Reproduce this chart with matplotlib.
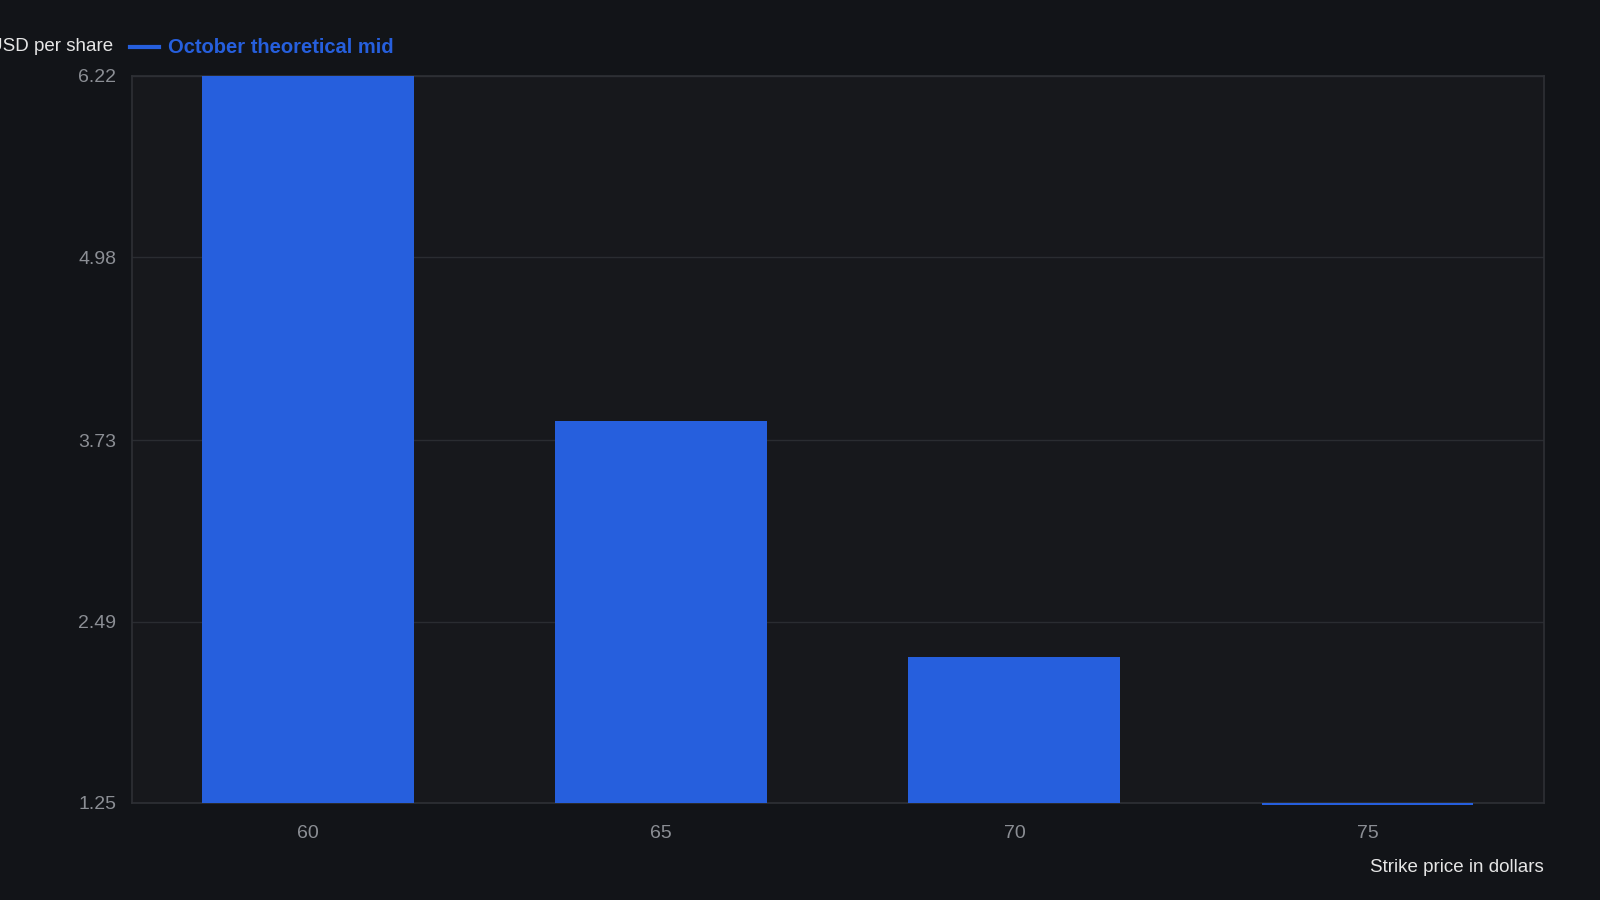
import matplotlib.pyplot as plt
import numpy as np

# strike prices and October theoretical mid values
strikes = ["60", "65", "70", "75"]
mid_values = [6.22, 3.86, 2.25, 1.235]
y_ticks = [1.25, 2.49, 3.73, 4.98, 6.22]

bg = "#121418"
panel = "#17181c"
bar_color = "#265fdd"
grid_color = "#2a2c31"
tick_color = "#8b8e94"

plt.rcParams["font.family"] = ["Liberation Sans", "DejaVu Sans"]

fig = plt.figure(figsize=(16, 9), dpi=100, facecolor=bg)
ax = fig.add_axes([0.0823, 0.1078, 0.8827, 0.8082])
ax.set_facecolor(panel)

x = np.arange(len(strikes))
base = y_ticks[0]
ax.bar(x, np.array(mid_values) - base, bottom=base, width=0.6,
       color=bar_color, zorder=4, clip_on=False)

ax.set_xlim(-0.5, len(strikes) - 0.5)
ax.set_ylim(y_ticks[0], y_ticks[-1])
ax.set_xticks(x)
ax.set_xticklabels(strikes)
ax.set_yticks(y_ticks)
ax.set_yticklabels([f"{v:.2f}" for v in y_ticks])
ax.tick_params(axis="both", length=0, colors=tick_color, labelsize=14)
ax.tick_params(axis="x", pad=16)
ax.tick_params(axis="y", pad=11)
ax.grid(axis="y", color=grid_color, linewidth=1, zorder=0)

for s in ax.spines.values():
    s.set_color("#2e3035")
    s.set_linewidth(1.2)
    s.set_zorder(3)

fig.text(0.071, 0.948, "USD per share", color="#e6e6e6", fontsize=13.5,
         ha="right", va="center")
fig.lines.append(plt.Line2D([0.0815, 0.0995], [0.948, 0.948],
                            transform=fig.transFigure, color=bar_color, linewidth=3))
fig.text(0.105, 0.947, "October theoretical mid", color=bar_color,
         fontsize=14.5, fontweight="bold", ha="left", va="center")

fig.text(0.965, 0.036, "Strike price in dollars", color="#e6e6e6",
         fontsize=13.5, ha="right", va="center")

fig.savefig("out.png", dpi=100, facecolor=bg)
